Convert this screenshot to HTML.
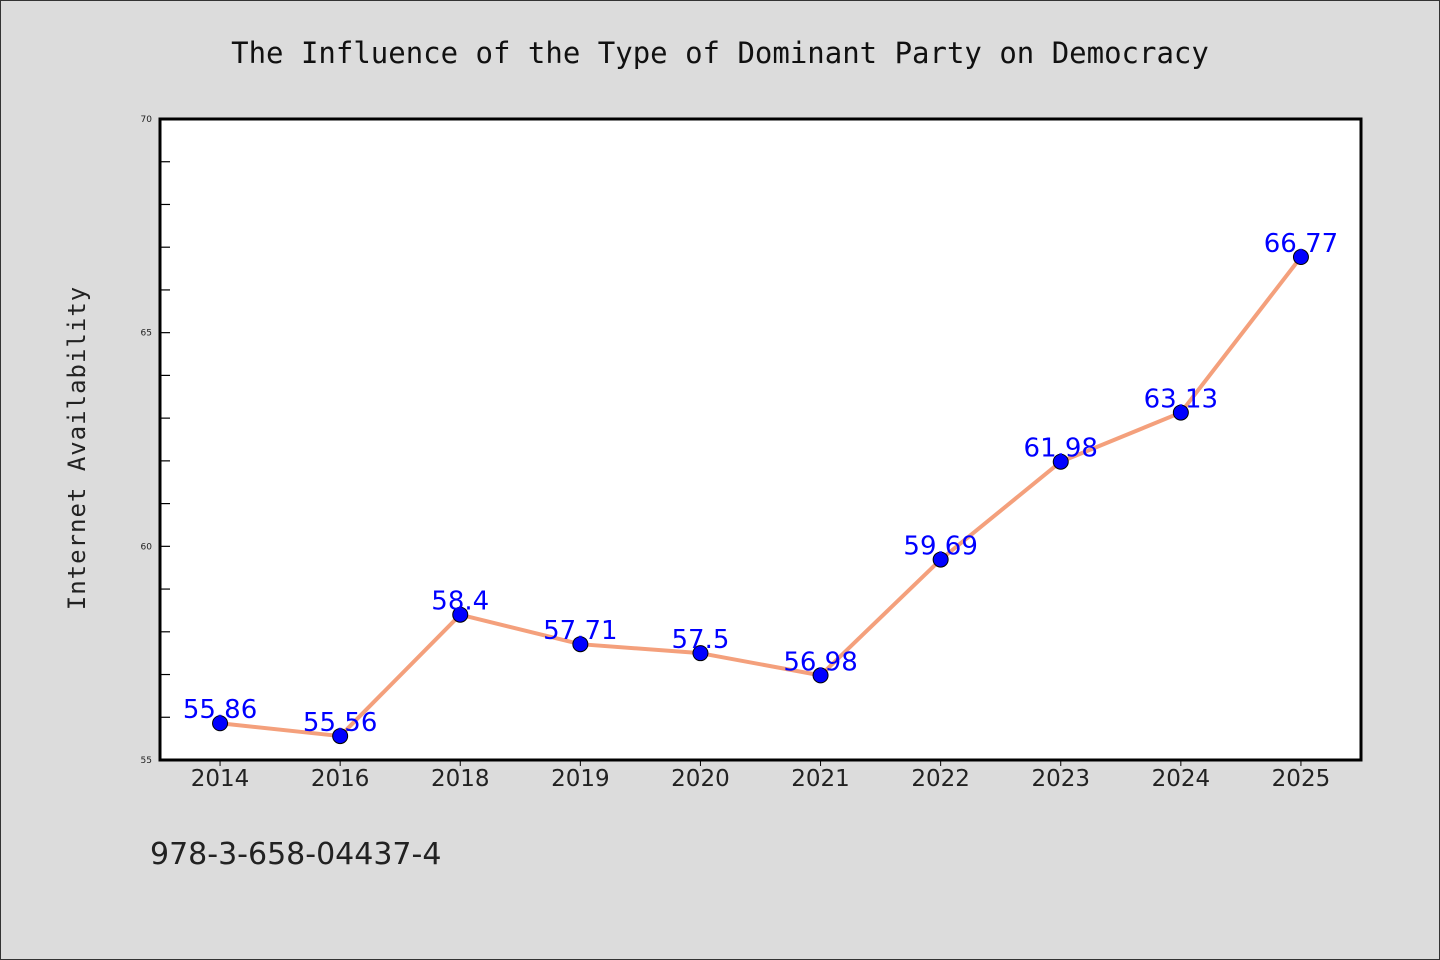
<!DOCTYPE html>
<html><head><meta charset="utf-8"><style>
html,body{margin:0;padding:0;background:#dcdcdc;}
svg{display:block;}
text{font-family:"DejaVu Sans","Liberation Sans",sans-serif;}
</style></head><body>
<svg id="chart" width="1440" height="960">
<rect x="0.5" y="0.5" width="1439" height="959" fill="#dcdcdc" stroke="#333"/>
<text x="720" y="63" text-anchor="middle" font-size="29" font-family="DejaVu Sans Mono,Liberation Mono,monospace" style="font-family:'DejaVu Sans Mono','Liberation Mono',monospace" fill="#111">The Influence of the Type of Dominant Party on Democracy</text>
<rect x="160" y="119" width="1201" height="641" fill="#fff"/>
<g id="yticks"></g><g id="xticks"></g>
<rect x="160" y="119" width="1201" height="641" fill="none" stroke="#000" stroke-width="3"/>
<g id="series"></g>
<text transform="translate(85,448) rotate(-90)" text-anchor="middle" font-size="24" style="font-family:'DejaVu Sans Mono','Liberation Mono',monospace;letter-spacing:1px" fill="#222">Internet Availability</text>
<text x="150" y="864" font-size="30" fill="#222">978-3-658-04437-4</text>
</svg>
<script>
const categories=["2014","2016","2018","2019","2020","2021","2022","2023","2024","2025"];
const values=[55.86,55.56,58.4,57.71,57.5,56.98,59.69,61.98,63.13,66.77];
const yTickLabels=[55,60,65,70];
const NS="http://www.w3.org/2000/svg";
const x0=160,x1=1361,yTop=119,yBot=760,yMin=55,yMax=70;
const band=(x1-x0)/categories.length;
function xs(i){return x0+band*(i+0.5);}
function ys(v){return yBot-(v-yMin)/(yMax-yMin)*(yBot-yTop);}
function mk(t,a,p){const e=document.createElementNS(NS,t);for(const k in a)e.setAttribute(k,a[k]);p.appendChild(e);return e;}
const yt=document.getElementById('yticks');
for(let v=yMin+1;v<yMax;v++){
 const l=mk('line',{x1:x0,x2:x0+10,y1:ys(v),y2:ys(v),stroke:'#000','stroke-width':1.2},yt);
 
 
}
yTickLabels.forEach(v=>{
 const t=mk('text',{x:x0-8,y:ys(v)+3,'text-anchor':'end','font-size':9,fill:'#222'},yt);
 t.textContent=v;
 
 
});
const xt=document.getElementById('xticks');
categories.forEach((c,i)=>{
 const l=mk('line',{x1:xs(i),x2:xs(i),y1:yBot,y2:yBot+6,stroke:'#000','stroke-width':1},xt);
 
 
 const t=mk('text',{x:xs(i),y:yBot+26,'text-anchor':'middle','font-size':23,fill:'#222'},xt);
 t.textContent=c;
 
 
});
const sg=document.getElementById('series');
const pts=values.map((v,i)=>xs(i)+','+ys(v)).join(' ');
const pl=mk('polyline',{points:pts,fill:'none',stroke:'#f4a07c','stroke-width':4,'stroke-linejoin':'round'},sg);


values.forEach((v,i)=>{
 const c=mk('circle',{cx:xs(i),cy:ys(v),r:7.5,fill:'#0000ff',stroke:'#000','stroke-width':1},sg);
 
 
});
values.forEach((v,i)=>{
 const t=mk('text',{x:xs(i),y:ys(v)-5,'text-anchor':'middle','font-size':26,fill:'#0000ff'},sg);
 t.textContent=String(v);
 
 
});
</script>
</body></html>
